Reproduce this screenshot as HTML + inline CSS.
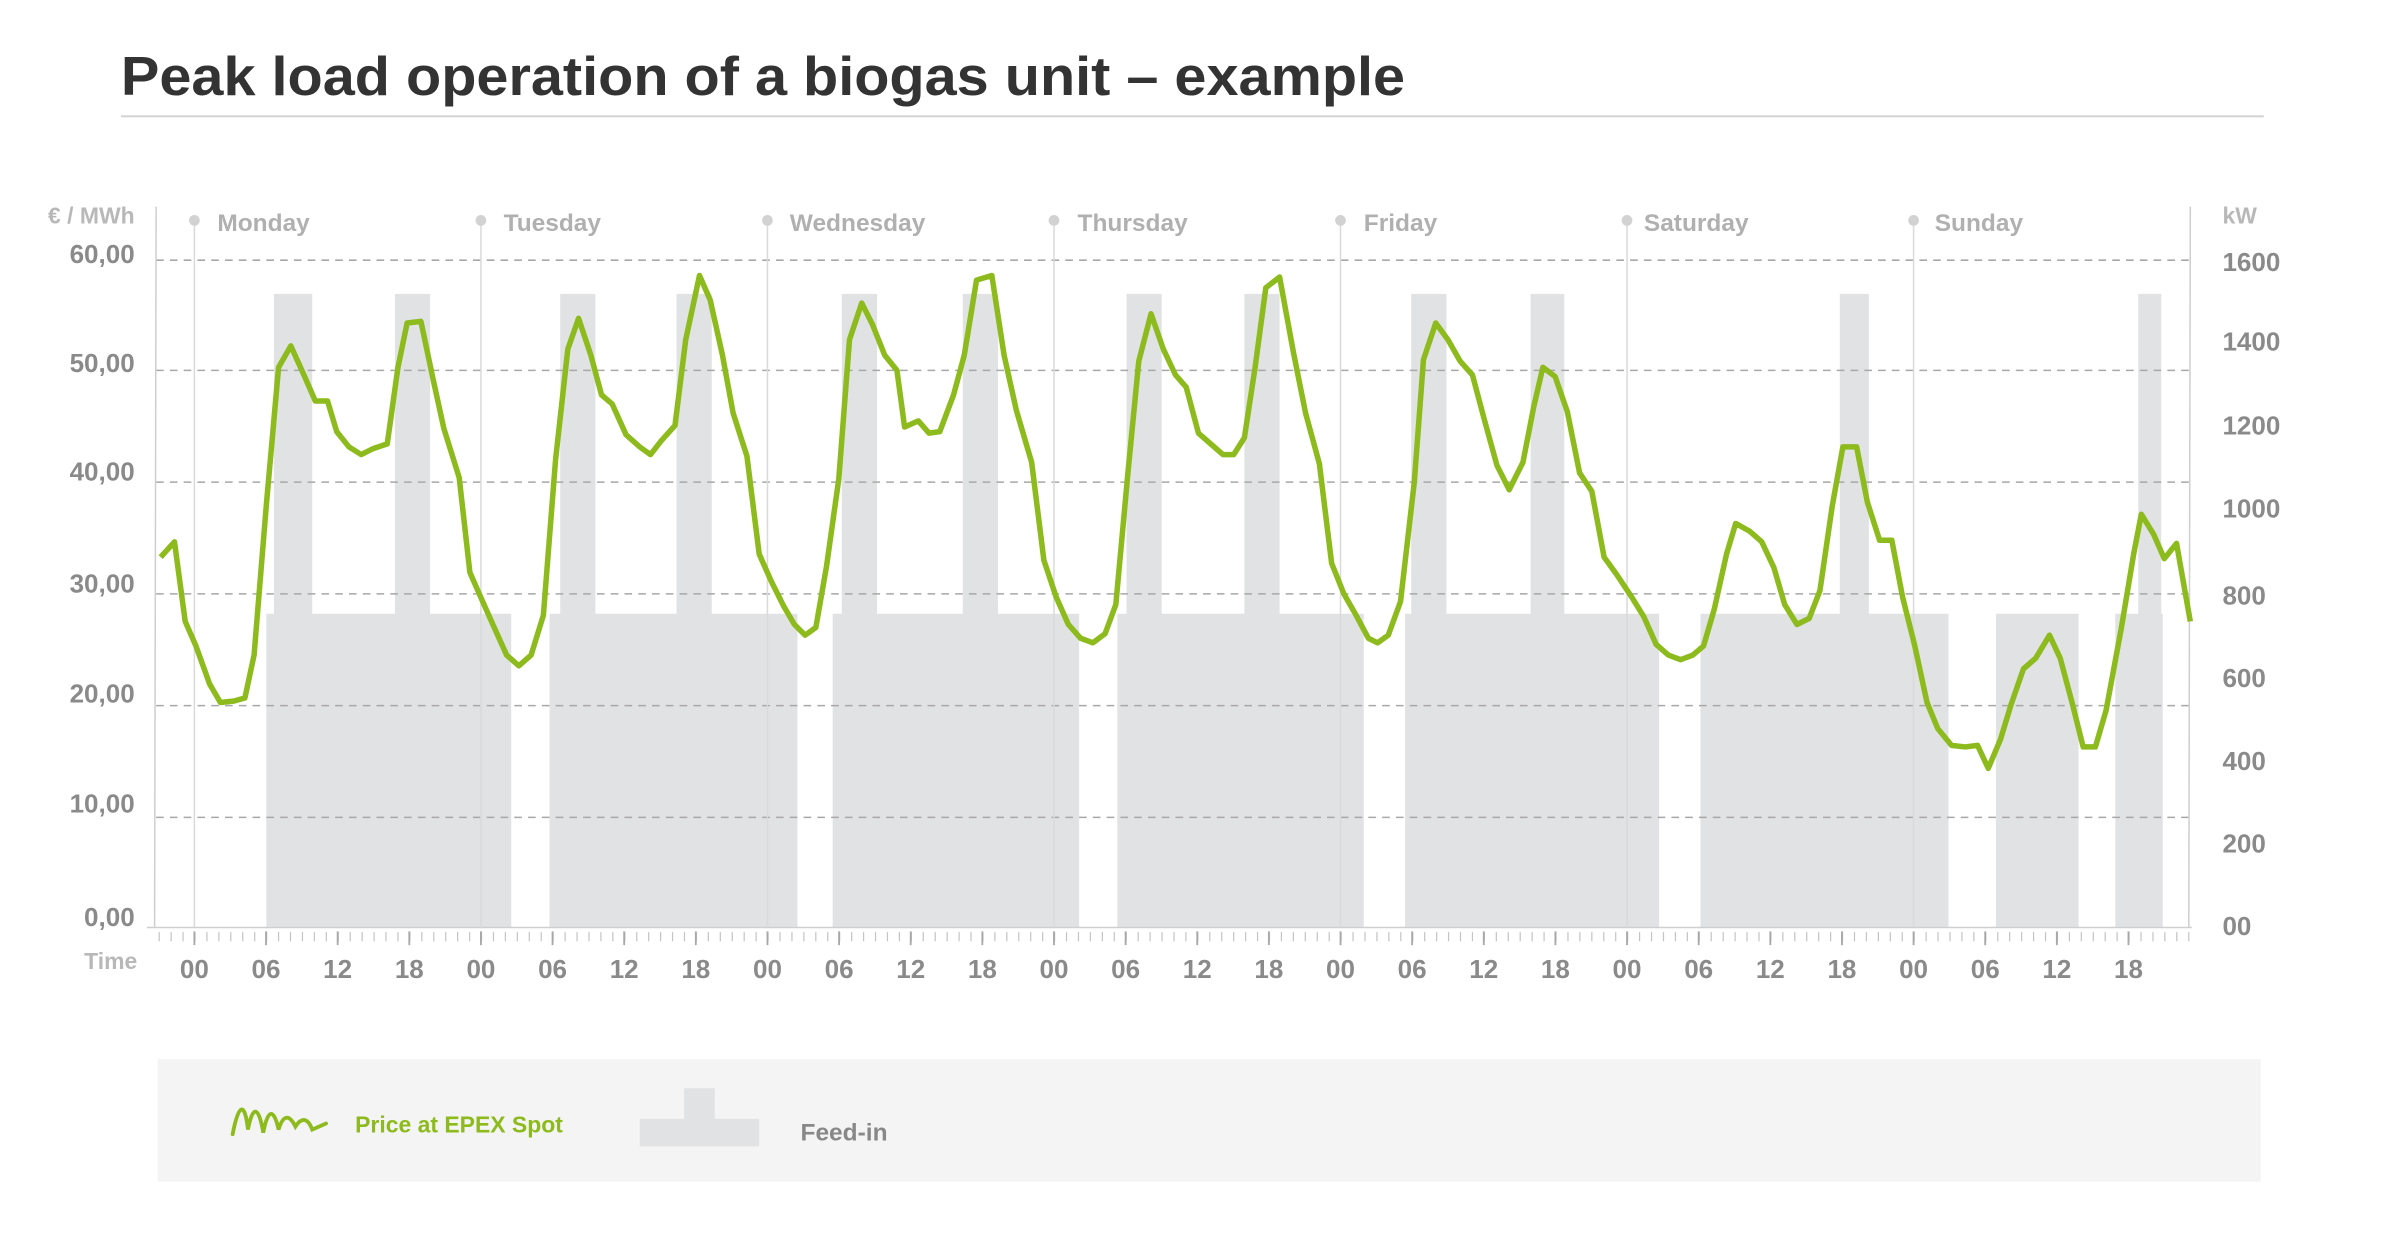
<!DOCTYPE html>
<html><head><meta charset="utf-8"><style>
html,body{margin:0;padding:0;background:#fff;}
svg{display:block;font-family:"Liberation Sans",sans-serif;}
</style></head><body>
<svg width="2400" height="1241" viewBox="0 0 1568 810.8" preserveAspectRatio="none" xmlns="http://www.w3.org/2000/svg">
<text x="79" y="62" font-size="36" font-weight="bold" fill="#333" textLength="839" lengthAdjust="spacingAndGlyphs">Peak load operation of a biogas unit – example</text>
<line x1="79" y1="76" x2="1479" y2="76" stroke="#d0d0d0" stroke-width="1.2"/>

<g fill="#e1e2e4">
<rect x="174" y="401" width="160" height="205"/><rect x="179" y="192" width="25" height="210"/><rect x="258" y="192" width="23" height="210"/>
<rect x="359" y="401" width="162" height="205"/><rect x="366" y="192" width="23" height="210"/><rect x="442" y="192" width="23" height="210"/>
<rect x="544" y="401" width="161" height="205"/><rect x="550" y="192" width="23" height="210"/><rect x="629" y="192" width="23" height="210"/>
<rect x="730" y="401" width="161" height="205"/><rect x="736" y="192" width="23" height="210"/><rect x="813" y="192" width="23" height="210"/>
<rect x="918" y="401" width="166" height="205"/><rect x="922" y="192" width="23" height="210"/><rect x="1000" y="192" width="22" height="210"/>
<rect x="1111" y="401" width="162" height="205"/><rect x="1202" y="192" width="19" height="210"/>
<rect x="1304" y="401" width="54" height="205"/><rect x="1382" y="401" width="31" height="205"/><rect x="1397" y="192" width="15" height="210"/>
</g>

<g stroke="#a8a8a8" stroke-width="1" stroke-dasharray="5 4">
<line x1="102" y1="170" x2="1430" y2="170"/><line x1="102" y1="242" x2="1430" y2="242"/>
<line x1="102" y1="315" x2="1430" y2="315"/><line x1="102" y1="388" x2="1430" y2="388"/>
<line x1="102" y1="461" x2="1430" y2="461"/><line x1="102" y1="534" x2="1430" y2="534"/>
</g>
<g stroke="#cfcfcf" stroke-width="1">
<line x1="102" y1="135" x2="101" y2="606"/><line x1="1431" y1="135" x2="1430" y2="606"/>
<line x1="96" y1="606" x2="1432" y2="606"/>
</g>
<g stroke="#dadada" stroke-width="1">
<line x1="127" y1="144" x2="127" y2="606"/><line x1="314.2" y1="144" x2="314.2" y2="606"/>
<line x1="501.4" y1="144" x2="501.4" y2="606"/><line x1="688.6" y1="144" x2="688.6" y2="606"/>
<line x1="875.8" y1="144" x2="875.8" y2="606"/><line x1="1063" y1="144" x2="1063" y2="606"/>
<line x1="1250.2" y1="144" x2="1250.2" y2="606"/>
</g>
<g fill="#d2d2d2">
<circle cx="127" cy="144" r="3.5"/><circle cx="314.2" cy="144" r="3.5"/><circle cx="501.4" cy="144" r="3.5"/>
<circle cx="688.6" cy="144" r="3.5"/><circle cx="875.8" cy="144" r="3.5"/><circle cx="1063" cy="144" r="3.5"/><circle cx="1250.2" cy="144" r="3.5"/>
</g>
<g fill="#b0b0b0" font-size="16" font-weight="bold">
<text x="142" y="151">Monday</text><text x="329" y="151">Tuesday</text><text x="516" y="151">Wednesday</text>
<text x="704" y="151">Thursday</text><text x="891" y="151">Friday</text><text x="1074" y="151">Saturday</text><text x="1264" y="151">Sunday</text>
</g>
<line x1="103.6" y1="612" x2="1432" y2="612" stroke="#c4c4c4" stroke-width="6" stroke-dasharray="0.8 7"/>
<line x1="126.4" y1="613" x2="1432" y2="613" stroke="#a8a8a8" stroke-width="9" stroke-dasharray="1.2 45.6"/>

<polyline fill="none" stroke="#8dba1c" stroke-width="3.6" stroke-linejoin="round" points="105,364 114,354 121,406 128,422 137,447 144,459 153,458 160,456 166,428 174,330 182,240 190,226 199,246 206,262 214,262 220,282 228,292 236,297 244,293 253,290 260,240 266,211 275,210 283,248 290,280 300,312 307,374 314,390 322,408 331,428 339,435 347,428 355,402 363,300 371,228 378,208 386,232 393,258 400,264 409,284 418,292 425,297 432,288 441,278 448,222 457,180 464,196 472,232 479,270 488,298 496,362 504,380 512,396 519,408 526,415 533,410 540,370 548,313 555,222 563,198 570,212 578,232 586,242 591,279 600,275 607,283 614,282 623,258 630,232 638,183 648,180 656,232 664,268 674,302 682,366 690,390 698,408 706,417 714,420 722,414 729,395 737,308 744,236 752,205 760,228 768,245 775,253 783,283 791,290 799,297 806,297 813,286 820,240 827,188 836,181 845,230 853,270 862,303 870,368 878,388 886,402 894,417 900,420 907,415 915,393 924,315 930,235 938,211 946,222 954,236 962,245 970,275 978,304 986,320 995,302 1002,266 1008,240 1016,246 1024,269 1032,309 1040,321 1048,364 1056,375 1066,390 1074,403 1082,421 1090,428 1098,431 1106,428 1113,422 1120,398 1128,362 1134,342 1143,347 1151,354 1159,371 1166,395 1174,408 1182,404 1189,386 1197,331 1204,292 1213,292 1220,328 1228,353 1236,353 1243,390 1251,422 1259,459 1266,476 1275,487 1284,488 1292,487 1299,502 1307,483 1314,460 1322,437 1330,430 1339,415 1346,430 1354,460 1361,488 1369,488 1376,464 1386,410 1394,362 1399,336 1407,349 1414,365 1422,355 1431,406"/>

<text x="88" y="146" font-size="15" font-weight="bold" fill="#b8b8b8" text-anchor="end">€ / MWh</text>
<g fill="#8a8a8a" font-size="17" font-weight="bold" text-anchor="end">
<text x="88" y="172">60,00</text><text x="88" y="243">50,00</text><text x="88" y="314">40,00</text>
<text x="88" y="387">30,00</text><text x="88" y="459">20,00</text><text x="88" y="531">10,00</text><text x="88" y="605">0,00</text>
</g>
<text x="1452" y="146" font-size="15" font-weight="bold" fill="#b8b8b8">kW</text>
<g fill="#8a8a8a" font-size="17" font-weight="bold">
<text x="1452" y="177">1600</text><text x="1452" y="229">1400</text><text x="1452" y="284">1200</text>
<text x="1452" y="338">1000</text><text x="1452" y="395">800</text><text x="1452" y="449">600</text>
<text x="1452" y="503">400</text><text x="1452" y="557">200</text><text x="1452" y="611">00</text>
</g>
<text x="55" y="633" font-size="15" font-weight="bold" fill="#b8b8b8">Time</text>
<g fill="#8a8a8a" font-size="17" font-weight="bold" text-anchor="middle">
<text x="127" y="639">00</text><text x="173.8" y="639">06</text><text x="220.6" y="639">12</text><text x="267.4" y="639">18</text>
<text x="314.2" y="639">00</text><text x="361" y="639">06</text><text x="407.8" y="639">12</text><text x="454.6" y="639">18</text>
<text x="501.4" y="639">00</text><text x="548.2" y="639">06</text><text x="595" y="639">12</text><text x="641.8" y="639">18</text>
<text x="688.6" y="639">00</text><text x="735.4" y="639">06</text><text x="782.2" y="639">12</text><text x="829" y="639">18</text>
<text x="875.8" y="639">00</text><text x="922.6" y="639">06</text><text x="969.4" y="639">12</text><text x="1016.2" y="639">18</text>
<text x="1063" y="639">00</text><text x="1109.8" y="639">06</text><text x="1156.6" y="639">12</text><text x="1203.4" y="639">18</text>
<text x="1250.2" y="639">00</text><text x="1297" y="639">06</text><text x="1343.8" y="639">12</text><text x="1390.6" y="639">18</text>
</g>

<rect x="103" y="692" width="1374" height="80" fill="#f4f4f4"/>
<path d="M152,741 C156,720 160,720 162,738 C165,722 169,722 172,740 C175,724 179,724 182,738 C185,728 189,728 193,736 C197,730 201,730 204,738 L213,734" fill="none" stroke="#8dba1c" stroke-width="2.5" stroke-linecap="round"/>
<text x="232" y="740" font-size="15" font-weight="bold" fill="#8dba1c">Price at EPEX Spot</text>
<rect x="418" y="731" width="78" height="18" fill="#e1e2e4"/>
<rect x="447" y="711" width="20" height="21" fill="#e1e2e4"/>
<text x="523" y="745" font-size="16" font-weight="bold" fill="#888">Feed-in</text>
</svg>
</body></html>
